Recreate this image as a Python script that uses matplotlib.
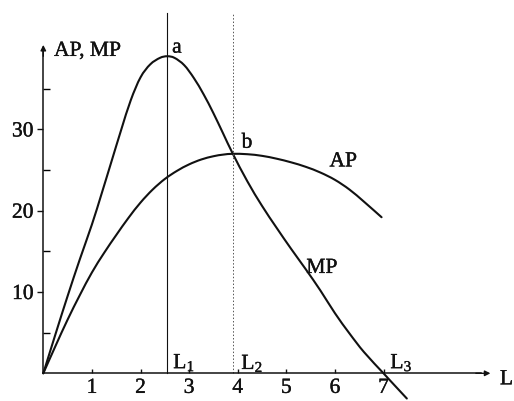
import matplotlib
matplotlib.use("Agg")
import matplotlib.pyplot as plt
import matplotlib.patheffects as pe
from matplotlib.path import Path
from matplotlib.patches import PathPatch

plt.rcParams['font.family'] = ['Liberation Serif', 'DejaVu Serif']
plt.rcParams['mathtext.fontset'] = 'custom'
plt.rcParams['mathtext.rm'] = 'Liberation Serif'
plt.rcParams['mathtext.default'] = 'regular'

# Labour input L and the marginal / average product
mp_L = [0, 0.25, 0.5, 0.75, 1.0, 1.2, 1.4, 1.6, 1.8, 2.0, 2.2, 2.4, 2.55,
        2.7, 2.9, 3.1, 3.3, 3.5, 3.7, 3.9, 4.2, 4.5, 4.8, 5.1, 5.4, 5.7,
        6.0, 6.3, 6.6, 7.0, 7.2, 7.48]
mp_val = [0, 4.8, 9.5, 14.0, 18.3, 22.1, 26.0, 29.9, 33.6, 36.4, 38.0, 38.8, 39.0,
          38.8, 37.9, 36.3, 34.3, 32.0, 29.5, 27.0, 23.6, 20.6, 17.9, 15.3, 12.8, 10.2,
          7.4, 4.9, 2.6, 0.0, -1.3, -3.1]

ap_L = [0, 0.25, 0.5, 0.75, 1.0, 1.25, 1.5, 1.75, 2.0, 2.25, 2.5, 2.75, 3.0,
        3.25, 3.5, 3.7, 3.9, 4.2, 4.5, 4.8, 5.1, 5.4, 5.7, 6.0, 6.3, 6.6, 6.96]
ap_val = [0, 3.35, 6.6, 9.6, 12.4, 14.8, 17.0, 19.1, 21.0, 22.6, 23.9, 24.9, 25.7,
          26.3, 26.7, 26.9, 27.0, 26.95, 26.75, 26.4, 25.95, 25.4, 24.7, 23.8, 22.6, 21.1, 19.2]

x_ticks = [1, 2, 3, 4, 5, 6, 7]
y_ticks = [10, 20, 30]
y_minor = [5, 15, 25, 35]

L1, L2, L3 = 2.55, 3.9, 7.0
mp_max = 39.0
ap_max = 27.0

ink = '#111111'
heavy = [pe.withStroke(linewidth=0.25, foreground=ink)]


def smooth_path(xs, ys):
    """Catmull-Rom curve through the given points, as cubic Bezier segments."""
    pts = list(zip(xs, ys))
    n = len(pts)
    verts = [pts[0]]
    codes = [Path.MOVETO]
    for i in range(n - 1):
        p0 = pts[i - 1] if i > 0 else pts[i]
        p1 = pts[i]
        p2 = pts[i + 1]
        p3 = pts[i + 2] if i + 2 < n else pts[i + 1]
        c1 = (p1[0] + (p2[0] - p0[0]) / 6, p1[1] + (p2[1] - p0[1]) / 6)
        c2 = (p2[0] - (p3[0] - p1[0]) / 6, p2[1] - (p3[1] - p1[1]) / 6)
        verts += [c1, c2, p2]
        codes += [Path.CURVE4] * 3
    return Path(verts, codes)


fig = plt.figure(figsize=(5.14, 4.01), dpi=100)
ax = fig.add_axes([0, 0, 1, 1])
ax.set_xlim(-0.891, 9.685)
ax.set_ylim(-3.407, 45.92)

for s in ('top', 'right'):
    ax.spines[s].set_visible(False)
ax.spines['left'].set_position(('data', 0))
ax.spines['bottom'].set_position(('data', 0))
ax.spines['left'].set_bounds(0, 40.0)
ax.spines['bottom'].set_bounds(0, 9.0)
for s in ('left', 'bottom'):
    ax.spines[s].set_linewidth(1.1)
    ax.spines[s].set_color(ink)

fs = 15.5
ax.set_xticks(x_ticks)
ax.set_xticklabels([str(v) for v in x_ticks])
ax.set_yticks(y_ticks)
ax.set_yticklabels([str(v) for v in y_ticks])
ax.set_yticks(y_minor, minor=True)
ax.tick_params(axis='x', direction='in', length=3, width=1, pad=4,
               labelsize=fs, colors=ink)
ax.tick_params(axis='y', which='major', direction='out', length=4, width=1,
               pad=3, labelsize=fs, colors=ink)
ax.tick_params(axis='y', which='minor', direction='in', length=5, width=1)
for lab in ax.get_xticklabels() + ax.get_yticklabels():
    lab.set_path_effects(heavy)

# axis arrowheads
ax.annotate('', xy=(0, 40.4), xytext=(0, 39.0),
            arrowprops=dict(arrowstyle='-|>', color=ink, lw=1.0,
                            mutation_scale=8, shrinkA=0, shrinkB=0))
ax.annotate('', xy=(9.2, 0), xytext=(8.9, 0),
            arrowprops=dict(arrowstyle='-|>', color=ink, lw=1.0,
                            mutation_scale=8, shrinkA=0, shrinkB=0))

# curves
for xs, ys in ((mp_L, mp_val), (ap_L, ap_val)):
    ax.add_patch(PathPatch(smooth_path(xs, ys), fill=False, edgecolor=ink,
                           lw=1.5, capstyle='round', joinstyle='round'))

# reference verticals
ax.plot([L1, L1], [0, 44.3], color=ink, lw=0.8)
ax.plot([L2, L2], [0, 44.3], color='#555555', lw=0.7, ls=(0, (1.5, 2)))

labels = [
    (0.22, 39.6, 'AP, MP', 'left'),
    (L1 + 0.1, mp_max + 1.0, 'a', 'left'),
    (L2 + 0.18, ap_max + 1.3, 'b', 'left'),
    (6.17, 26.0, 'AP', 'center'),
    (5.73, 12.9, 'MP', 'center'),
    (L1 + 0.35, 1.3, r'L$_{1}$', 'center'),
    (L2 + 0.4, 1.2, r'L$_{2}$', 'center'),
    (L3 + 0.37, 1.3, r'L$_{3}$', 'center'),
    (9.53, -0.8, 'L', 'center'),
]
for x, y, s, ha in labels:
    ax.text(x, y, s, fontsize=fs, ha=ha, va='center', color=ink,
            path_effects=heavy)

fig.savefig('out.png', dpi=100)
